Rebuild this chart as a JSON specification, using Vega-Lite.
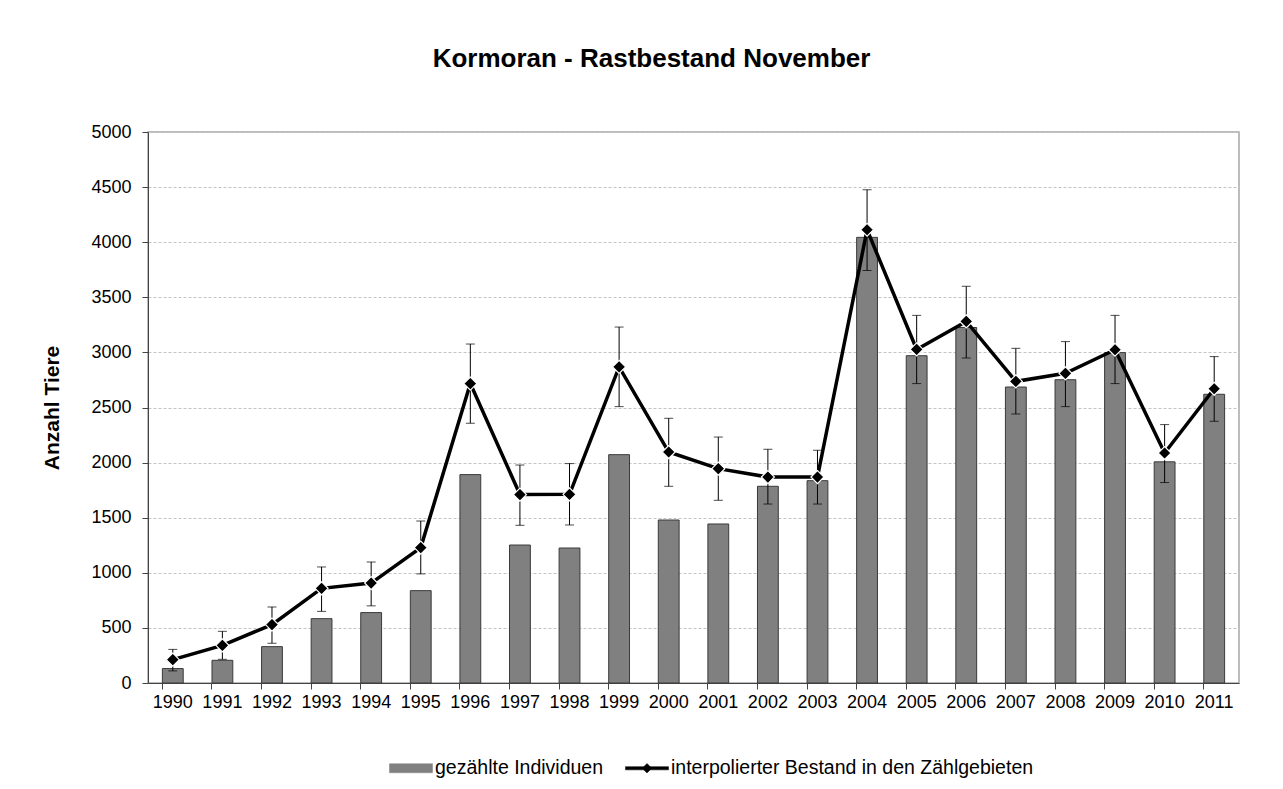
{
  "$schema": "https://vega.github.io/schema/vega-lite/v6.json",
  "autosize": {"type": "none"},
  "padding": {"left": 148, "top": 132, "right": 44, "bottom": 106},
  "width": 1091,
  "height": 551,
  "background": "white",
  "title": {
    "text": "Kormoran - Rastbestand November",
    "font": "Liberation Sans",
    "fontSize": 26,
    "fontWeight": "bold",
    "color": "black",
    "anchor": "middle",
    "dx": -42,
    "offset": 51
  },
  "config": {
    "view": {"stroke": "#a6a6a6", "strokeWidth": 1.5},
    "axis": {
      "labelFont": "Liberation Sans",
      "labelFontSize": 18,
      "labelColor": "black",
      "titleFont": "Liberation Sans",
      "titleColor": "black",
      "domainColor": "#444444",
      "tickColor": "#444444",
      "tickSize": 6
    },
    "legend": {
      "labelFont": "Liberation Sans",
      "labelFontSize": 19.5,
      "labelColor": "black",
      "labelLimit": 0,
      "labelOffset": 2,
      "columnPadding": 20,
      "symbolSize": 1849,
      "symbolStrokeWidth": 0.5
    }
  },
  "data": {
    "values": [
      {"year": "1990", "count": 131, "interp": 212, "lo": 110, "hi": 305},
      {"year": "1991", "count": 206, "interp": 342, "lo": 215, "hi": 469},
      {"year": "1992", "count": 330, "interp": 530, "lo": 360, "hi": 690},
      {"year": "1993", "count": 584, "interp": 859, "lo": 650, "hi": 1053},
      {"year": "1994", "count": 639, "interp": 907, "lo": 700, "hi": 1098},
      {"year": "1995", "count": 838, "interp": 1229, "lo": 990, "hi": 1470},
      {"year": "1996", "count": 1891, "interp": 2717, "lo": 2357, "hi": 3076},
      {"year": "1997", "count": 1252, "interp": 1710, "lo": 1431, "hi": 1978},
      {"year": "1998", "count": 1225, "interp": 1712, "lo": 1434, "hi": 1991},
      {"year": "1999", "count": 2072, "interp": 2868, "lo": 2508, "hi": 3230},
      {"year": "2000", "count": 1479, "interp": 2096, "lo": 1785, "hi": 2402},
      {"year": "2001", "count": 1443, "interp": 1945, "lo": 1658, "hi": 2232},
      {"year": "2002", "count": 1785, "interp": 1869, "lo": 1624, "hi": 2121},
      {"year": "2003", "count": 1836, "interp": 1869, "lo": 1624, "hi": 2112},
      {"year": "2004", "count": 4044, "interp": 4113, "lo": 3743, "hi": 4476},
      {"year": "2005", "count": 2970, "interp": 3027, "lo": 2717, "hi": 3336},
      {"year": "2006", "count": 3226, "interp": 3281, "lo": 2949, "hi": 3600},
      {"year": "2007", "count": 2686, "interp": 2737, "lo": 2441, "hi": 3037},
      {"year": "2008", "count": 2752, "interp": 2810, "lo": 2508, "hi": 3098},
      {"year": "2009", "count": 2998, "interp": 3024, "lo": 2717, "hi": 3336},
      {"year": "2010", "count": 2007, "interp": 2087, "lo": 1819, "hi": 2345},
      {"year": "2011", "count": 2620, "interp": 2670, "lo": 2375, "hi": 2962}
    ]
  },
  "encoding": {
    "x": {
      "field": "year",
      "type": "ordinal",
      "scale": {"paddingInner": 0.58, "paddingOuter": 0.29},
      "axis": {
        "title": null,
        "labelAngle": 0,
        "labelPadding": 4,
        "bandPosition": 0,
        "grid": false
      }
    }
  },
  "layer": [
    {
      "mark": {"type": "bar", "stroke": "#3a3a3a", "strokeWidth": 1},
      "encoding": {
        "y": {
          "field": "count",
          "type": "quantitative",
          "scale": {"domain": [0, 5000], "nice": false},
          "axis": {
            "title": "Anzahl Tiere",
            "titleFontSize": 21,
            "titleFontWeight": "bold",
            "titlePadding": 28,
            "format": "d",
            "values": [0, 500, 1000, 1500, 2000, 2500, 3000, 3500, 4000, 4500, 5000],
            "labelPadding": 11,
            "grid": true,
            "gridColor": "#c4c4c4",
            "gridDash": [3, 2],
            "gridWidth": 1
          }
        },
        "color": {
          "datum": "gezählte Individuen",
          "scale": {
            "domain": ["gezählte Individuen", "interpolierter Bestand in den Zählgebieten"],
            "range": ["#808080", "#000000"]
          },
          "legend": {
            "title": null,
            "orient": "none",
            "direction": "horizontal",
            "legendX": 241,
            "legendY": 614,
            "labelLimit": 0,
            "encode": {
              "symbols": {
                "update": {
                  "shape": {"signal": "datum.value === 'gezählte Individuen' ? 'M-1,-0.21H1V0.21H-1Z' : 'M-1,-0.075H1V0.075H-1Z M0,-0.22L0.22,0L0,0.22L-0.22,0Z'"},
                  "fill": {"signal": "datum.value === 'gezählte Individuen' ? '#808080' : '#000000'"},
                  "stroke": {"signal": "datum.value === 'gezählte Individuen' ? '#3a3a3a' : '#000000'"},
                  "strokeWidth": {"value": 0.5},
                  "opacity": {"value": 1},
                  "fillOpacity": {"value": 1}
                }
              }
            }
          }
        }
      }
    },
    {
      "mark": {"type": "rule", "color": "black", "strokeWidth": 1},
      "encoding": {
        "y": {"field": "lo", "type": "quantitative"},
        "y2": {"field": "hi"}
      }
    },
    {
      "mark": {"type": "tick", "color": "black", "size": 9, "thickness": 1, "orient": "horizontal"},
      "encoding": {
        "y": {"field": "lo", "type": "quantitative"}
      }
    },
    {
      "mark": {"type": "tick", "color": "black", "size": 9, "thickness": 1, "orient": "horizontal"},
      "encoding": {
        "y": {"field": "hi", "type": "quantitative"}
      }
    },
    {
      "mark": {"type": "line", "strokeWidth": 3.5},
      "encoding": {
        "y": {"field": "interp", "type": "quantitative"},
        "color": {
          "datum": "interpolierter Bestand in den Zählgebieten",
          "legend": {
            "title": null,
            "orient": "none",
            "direction": "horizontal",
            "legendX": 241,
            "legendY": 614,
            "labelLimit": 0,
            "encode": {
              "symbols": {
                "update": {
                  "shape": {"signal": "datum.value === 'gezählte Individuen' ? 'M-1,-0.21H1V0.21H-1Z' : 'M-1,-0.075H1V0.075H-1Z M0,-0.22L0.22,0L0,0.22L-0.22,0Z'"},
                  "fill": {"signal": "datum.value === 'gezählte Individuen' ? '#808080' : '#000000'"},
                  "stroke": {"signal": "datum.value === 'gezählte Individuen' ? '#3a3a3a' : '#000000'"},
                  "strokeWidth": {"value": 0.5},
                  "opacity": {"value": 1},
                  "fillOpacity": {"value": 1}
                }
              }
            }
          }
        }
      }
    },
    {
      "mark": {"type": "point", "shape": "diamond", "filled": true, "size": 170, "fill": "black", "stroke": "white", "strokeWidth": 1.2, "opacity": 1},
      "encoding": {
        "y": {"field": "interp", "type": "quantitative"}
      }
    }
  ]
}
